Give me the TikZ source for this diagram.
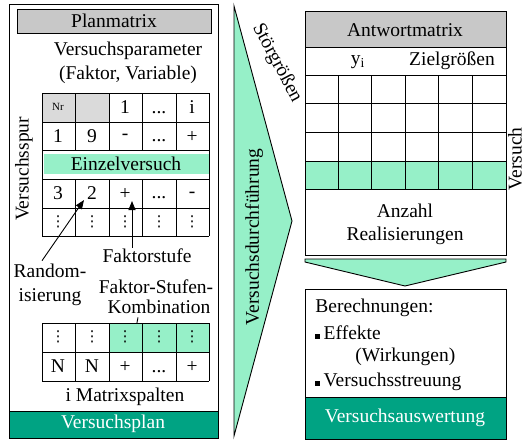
\documentclass[tikz,border=0pt]{standalone}
\usepackage{fontspec}
\setmainfont{Liberation Serif}
\newfontfamily\dotfont{DejaVu Sans}
\usetikzlibrary{arrows.meta}
\definecolor{mint}{RGB}{150,240,200}
\definecolor{planteal}{RGB}{0,163,131}
\definecolor{headgray}{RGB}{200,200,200}
\definecolor{cellgray}{RGB}{218,218,218}
\begin{document}
\begin{tikzpicture}[x=1pt,y=-1pt,line width=0.9pt,
  font=\fontsize{19.5}{24}\selectfont,
  txt/.style={inner sep=0pt},
  whitetxt/.style={inner sep=0pt,text=white},
  smalltxt/.style={inner sep=0pt,font=\fontsize{11}{13}\selectfont},
  vdot/.style={inner sep=0pt,font=\dotfont\fontsize{15}{15}\selectfont},
  arr/.style={-{Triangle[length=9pt,width=7pt]},line width=0.9pt},
  frame/.style={draw,line width=1pt}]
\useasboundingbox (0,0) rectangle (525,440);

% ---------- left panel: Versuchsplan ----------
\draw[frame,fill=white] (9,4) rectangle (218,438);
\draw[frame,fill=headgray] (17,9) rectangle (211,33);
\node[txt] (planhead) at (114,21) {Planmatrix};
\node[txt] (param1) at (128,51) {Versuchsparameter};
\node[txt] (param2) at (128,75) {(Faktor, Variable)};
\node[txt,rotate=90] (spur) at (24,169) {Versuchsspur};

% upper part of the plan matrix
\fill[cellgray] (42,93) rectangle (109,122);
\fill[mint] (44,154) rectangle (209,174);
\foreach \yy in {93,122,150,179,208,236} \draw (42,\yy) -- (209,\yy);
\draw (42,93) -- (42,236);
\draw (209,93) -- (209,236);
\foreach \xx in {75,109,142,176} {
  \draw (\xx,93) -- (\xx,150);
  \draw (\xx,179) -- (\xx,236);
}
\node[smalltxt] (nr) at (58,107) {Nr};
\node[txt] (h1) at (125,107) {1};
\node[txt] (h2) at (159,113) {...};
\node[txt] (h3) at (192,107) {i};
\node[txt] (r11) at (58,136) {1};
\node[txt] (r12) at (92,136) {9};
\node[txt] (r13) at (125,137) {-};
\node[txt] (r14) at (159,141) {...};
\node[txt] (r15) at (192,137) {+};
\node[txt] (einzel) at (126,164) {Einzelversuch};
\node[txt] (r31) at (58,193) {3};
\node[txt] (r32) at (92,193) {2};
\node[txt] (r33) at (125,194) {+};
\node[txt] (r34) at (159,198) {...};
\node[txt] (r35) at (192,195) {-};
\foreach \xx/\nm in {58/a,92/b,125/c,159/d,192/e}
  \node[vdot] (v\nm) at (\xx,222) {⋮};

% labels with arrows
\node[txt,align=center] (rand) at (50,285) {Random-\\isierung};
\coordinate (randtip) at (84,200);
\draw[arr] ([xshift=-8pt,yshift=3pt]rand.north) -- (randtip);
\node[txt] (fstufe) at (147,256) {Faktorstufe};
\coordinate (stufetip) at (132,201);
\draw[arr] ([xshift=-15pt,yshift=1pt]fstufe.north) -- (stufetip);
\node[txt] (komb1) at (156,287) {Faktor-Stufen-};
\node[txt] (komb2) at (159,307) {Kombination};
\coordinate (kombtip) at (133,344);
\draw[arr] ([xshift=-21pt,yshift=-3pt]komb2.south) -- (kombtip);

% lower part of the plan matrix
\fill[mint] (109,323) rectangle (209,352);
\foreach \yy in {323,352,381} \draw (42,\yy) -- (209,\yy);
\foreach \xx in {42,75,109,142,176,209} \draw (\xx,323) -- (\xx,381);
\foreach \xx/\nm in {58/a,92/b,125/c,159/d,192/e}
  \node[vdot] (w\nm) at (\xx,337) {⋮};
\node[txt] (n1) at (58,366) {N};
\node[txt] (n2) at (92,366) {N};
\node[txt] (n3) at (125,367) {+};
\node[txt] (n4) at (159,372) {...};
\node[txt] (n5) at (192,367) {+};
\node[txt] (spalten) at (125,397) {i Matrixspalten};

\draw[frame,fill=planteal] (9,411) rectangle (218,438);
\node[whitetxt] (plan) at (113,424) {Versuchsplan};

% ---------- middle: Versuchsdurchfuehrung ----------
\draw[fill=mint] (234,6) -- (292,221) -- (234,436) -- cycle;
\node[txt,rotate=90] (durch) at (254,237) {Versuchsdurchführung};
\node[txt,rotate=-62] (stoer) at (277,63) {Störgrößen};

% ---------- right panel: Antwortmatrix ----------
\draw[frame,fill=white] (305,11) rectangle (506,255);
\draw[frame,fill=headgray] (305,11) rectangle (506,47);
\node[txt] (antw) at (405,30) {Antwortmatrix};
\node[txt] (yi) at (358,62) {y\textsubscript{i}};
\node[txt] (ziel) at (452,61) {Zielgrößen};
\fill[mint] (305,161) rectangle (506,189);
\foreach \yy in {75,103,132,161,189} \draw (305,\yy) -- (506,\yy);
\foreach \xx in {338,371,405,438,472} \draw (\xx,75) -- (\xx,189);
\draw[line width=1pt] (305,11) rectangle (506,255);
\node[txt] (anzahl) at (405,211) {Anzahl};
\node[txt] (real) at (405,236) {Realisierungen};
\node[txt,rotate=90] (versuch) at (515,159) {Versuch};

% downward arrow
\draw[fill=mint] (305,259) -- (506,259) -- (506,262) -- (405,286) -- (305,262) -- cycle;

% ---------- right panel: Versuchsauswertung ----------
\draw[frame,fill=white] (305,289) rectangle (506,439);
\node[txt,anchor=west] (ber) at (315,308) {Berechnungen:};
\node[txt,anchor=west] (eff) at (315,333) {\rule[1pt]{5pt}{5pt}\,Effekte};
\node[txt,anchor=west] (wirk) at (355,357) {(Wirkungen)};
\node[txt,anchor=west] (streu) at (315,382) {\rule[1pt]{5pt}{5pt}\,Versuchsstreuung};
\draw[frame,fill=planteal] (305,397) rectangle (506,439);
\node[whitetxt] (ausw) at (405,418) {Versuchsauswertung};
\end{tikzpicture}
\end{document}
